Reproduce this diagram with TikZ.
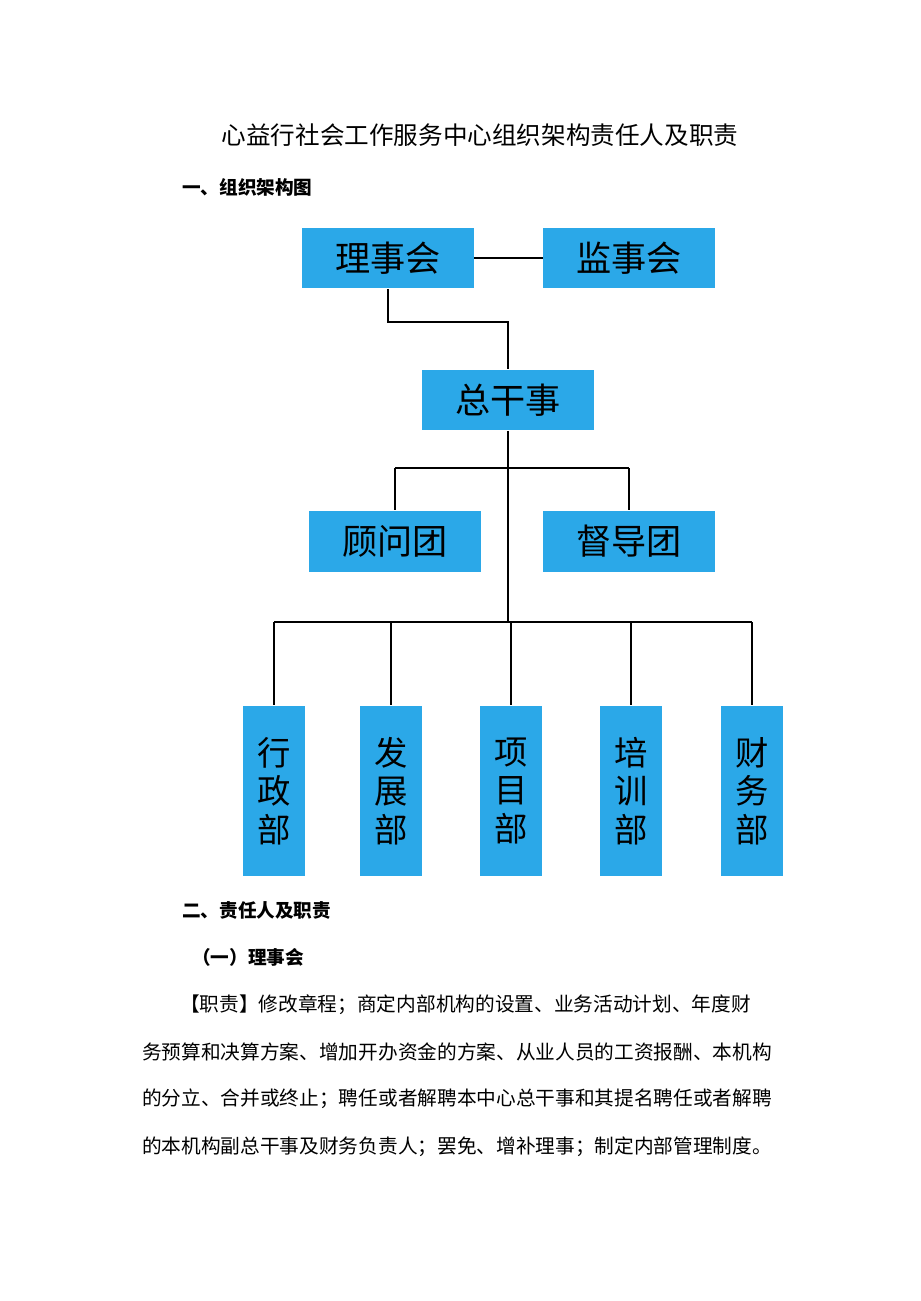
\documentclass[tikz,border=0pt]{standalone}
\usepackage{fontspec}
\setmainfont{Noto Sans CJK SC}
\usetikzlibrary{positioning}
\definecolor{boxblue}{HTML}{2BA8E8}

\begin{document}
\begin{tikzpicture}[
    x=0.02cm, y=-0.02cm,
    every node/.style={align=center},
    wide/.style={rectangle, fill=boxblue, minimum height=1.22cm, minimum width=3.44cm, font=\fontsize{20}{22}\selectfont},
    tall/.style={rectangle, fill=boxblue, minimum height=3.42cm, minimum width=1.24cm, font=\fontsize{19}{22}\selectfont},
    body/.style={anchor=west, font=\fontsize{11.2}{13}\selectfont},
    head/.style={anchor=west, font=\fontsize{10.6}{12}\bfseries\selectfont},
    wire/.style={line width=1.6pt}
]
\useasboundingbox (0,0) rectangle (920,1301);

% Texts
\node[font=\fontsize{14}{16}\selectfont] (title) at (480,135) {心益行社会工作服务中心组织架构责任人及职责};
\node[head] (sec1) at (176,187) {一、组织架构图};
\node[head] (sec2) at (176,910) {二、责任人及职责};
\node[head] (sub1) at (186,957) {（一）理事会};
\node[body] (p1) at (174,1005) {【职责】修改章程；商定内部机构的设置、业务活动计划、年度财};
\node[body] (p2) at (136,1052) {务预算和决算方案、增加开办资金的方案、从业人员的工资报酬、本机构};
\node[body] (p3) at (136,1099) {的分立、合并或终止；聘任或者解聘本中心总干事和其提名聘任或者解聘};
\node[body] (p4) at (136,1147) {的本机构副总干事及财务负责人；罢免、增补理事；制定内部管理制度。};

% Nodes
\node[wide] (board) at (388,258) {理事会};
\node[wide] (super) at (629,258) {监事会};
\node[wide] (gm) at (508,400) {总干事};
\node[wide] (advise) at (395,541) {顾问团};
\node[wide] (guide) at (629,541) {督导团};
\node[tall] (admin) at (274,791) {行\\政\\部};
\node[tall] (devel) at (391,791) {发\\展\\部};
\node[tall] (proj) at (511,791) {项\\目\\部};
\node[tall] (train) at (631,791) {培\\训\\部};
\node[tall] (fin) at (752,791) {财\\务\\部};

% Lines
\coordinate (bend) at (388,322);
\coordinate (hub1) at (508,468);
\coordinate (hub2) at (508,622);
\draw[wire] (board) -- (super);
\draw[wire] (board) -- (bend) -| (gm);
\draw[wire] (gm) -- (hub2);
\draw[wire] (hub1 -| advise) -- (hub1 -| guide);
\draw[wire] (hub1 -| advise) -- (advise);
\draw[wire] (hub1 -| guide) -- (guide);
\draw[wire] (hub2 -| admin) -- (hub2 -| fin);
\foreach \d in {admin,devel,proj,train,fin}
    \draw[wire] (hub2 -| \d) -- (\d);
\end{tikzpicture}
\end{document}
